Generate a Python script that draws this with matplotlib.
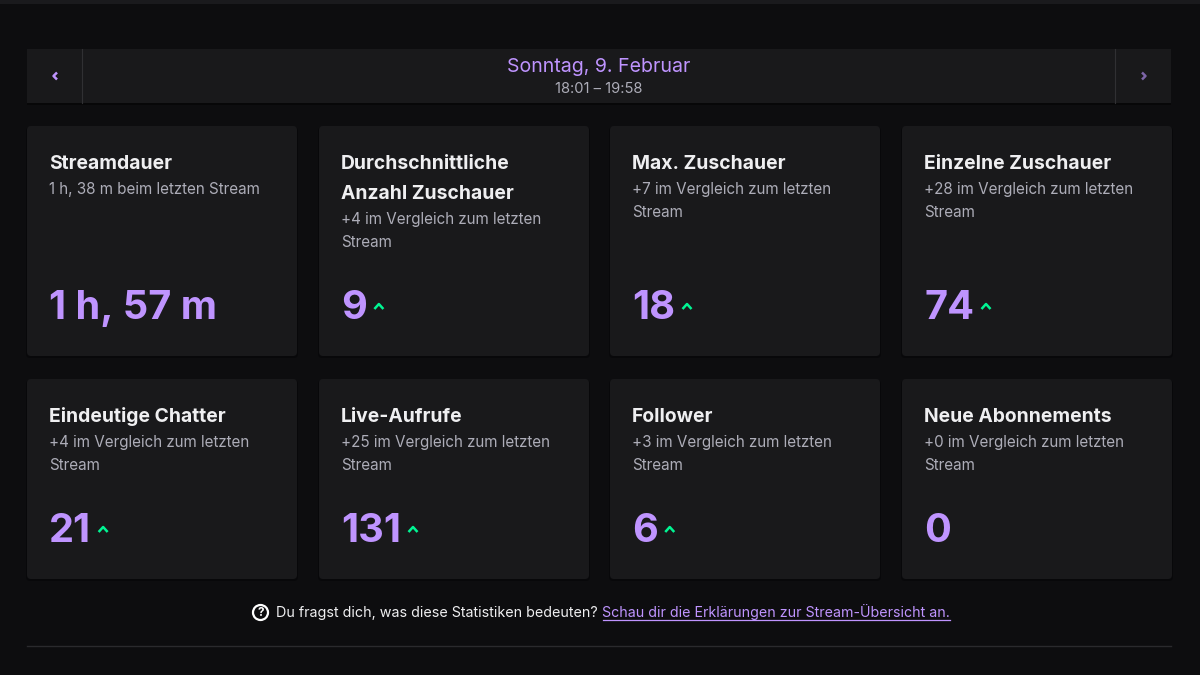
import matplotlib
matplotlib.use("Agg")
import matplotlib.pyplot as plt
from matplotlib.patches import FancyBboxPatch, Rectangle, Circle

plt.rcParams['font.family'] = ['Inter', 'DejaVu Sans']

date_title = "Sonntag, 9. Februar"
date_range = "18:01 – 19:58"

titles = [["Streamdauer"], ["Durchschnittliche", "Anzahl Zuschauer"], ["Max. Zuschauer"], ["Einzelne Zuschauer"],
          ["Eindeutige Chatter"], ["Live-Aufrufe"], ["Follower"], ["Neue Abonnements"]]
subtitles = [["1 h, 38 m beim letzten Stream"],
             ["+4 im Vergleich zum letzten", "Stream"],
             ["+7 im Vergleich zum letzten", "Stream"],
             ["+28 im Vergleich zum letzten", "Stream"],
             ["+4 im Vergleich zum letzten", "Stream"],
             ["+25 im Vergleich zum letzten", "Stream"],
             ["+3 im Vergleich zum letzten", "Stream"],
             ["+0 im Vergleich zum letzten", "Stream"]]
values = ["1 h, 57 m", "9", "18", "74", "21", "131", "6", "0"]
rising = [False, True, True, True, True, True, True, False]

footer_text = "Du fragst dich, was diese Statistiken bedeuten?"
footer_link = "Schau dir die Erklärungen zur Stream-Übersicht an."

BG = "#0d0d0f"
CARD = "#19191b"
PURPLE = "#bf94ff"
GREEN = "#00f593"
WHITE = "#efeff1"
GREY = "#adadb8"

card_x = [27, 319, 610, 902]
card_w = 270
rows = [(126, 230, 319), (379, 200, 542)]

fig = plt.figure(figsize=(12, 6.75), dpi=100, facecolor=BG)
ax = fig.add_axes([0, 0, 1, 1])
ax.set_xlim(0, 1200)
ax.set_ylim(675, 0)
ax.axis("off")
renderer = fig.canvas.get_renderer()


def text_right(t):
    bb = t.get_window_extent(renderer).transformed(ax.transData.inverted())
    return bb.x1


def card(x, y, w, h, r=4):
    ax.add_patch(FancyBboxPatch((x - 1, y + 1), w + 2, h + 1, boxstyle=f"round,pad=0,rounding_size={r}",
                                fc="#08080a", ec="none", zorder=1))
    ax.add_patch(FancyBboxPatch((x, y), w, h, boxstyle=f"round,pad=0,rounding_size={r}",
                                fc=CARD, ec="none", zorder=2))


# top strip
ax.add_patch(Rectangle((0, 0), 1200, 4, fc="#1a1a1d", ec="none"))

# date bar
ax.add_patch(Rectangle((27, 49), 1144, 54, fc=CARD, ec="none", zorder=2))
ax.add_patch(Rectangle((27, 103), 1144, 1.5, fc="#070708", ec="none", zorder=2))
ax.plot([82, 82], [49, 103], color="#303033", lw=0.8, zorder=3)
ax.plot([1115, 1115], [49, 103], color="#303033", lw=0.8, zorder=3)
ax.plot([57, 53.5, 57], [72.5, 76, 79.5], color=PURPLE, lw=1.8, zorder=3, solid_capstyle="butt")
ax.plot([1142, 1145.5, 1142], [72.5, 76, 79.5], color="#7d65a8", lw=1.8, zorder=3, solid_capstyle="butt")
ax.text(599, 71.5, date_title, color=PURPLE, fontsize=14.1, ha="center", va="baseline", zorder=4)
ax.text(599, 93, date_range, color=GREY, fontsize=10.6, ha="center", va="baseline", zorder=4)

# cards
for i in range(8):
    row_top, row_h, val_y = rows[i // 4]
    x = card_x[i % 4]
    card(x, row_top, card_w, row_h)
    y = row_top + 43
    for line in titles[i]:
        ax.text(x + 22, y, line, color=WHITE, fontsize=13.9, fontweight="bold", va="baseline", zorder=4)
        y += 30
    y = y - 30 + 25
    for line in subtitles[i]:
        ax.text(x + 22, y, line, color=GREY, fontsize=10.95, va="baseline", zorder=4)
        y += 23
    val = ax.text(x + 22, val_y, values[i], color=PURPLE, fontsize=28.6, fontweight="bold", va="baseline", zorder=4)
    if rising[i]:
        ax_x = text_right(val) + 12
        ax.plot([ax_x - 4.5, ax_x, ax_x + 4.5], [val_y - 10, val_y - 15, val_y - 10], color=GREEN, lw=1.8,
                zorder=4, solid_capstyle="butt")

# footer
ax.add_patch(Circle((260.5, 612.5), 7.5, fc="none", ec="white", lw=1.6, zorder=3))
ax.text(260.5, 612.7, "?", color="white", fontsize=8.5, fontweight="bold", ha="center", va="center", zorder=4)
ax.text(276.5, 617, footer_text, color=WHITE, fontsize=10.3, va="baseline", zorder=4)
lk = ax.text(602.5, 617, footer_link, color=PURPLE, fontsize=10.22, va="baseline", zorder=4)
ax.plot([602.5, text_right(lk)], [619.5, 619.5], color=PURPLE, lw=0.9, zorder=4)
ax.plot([27, 1171], [645.5, 645.5], color="#2a2a2d", lw=1, zorder=2)

fig.savefig("out.png", dpi=100, facecolor=BG)
